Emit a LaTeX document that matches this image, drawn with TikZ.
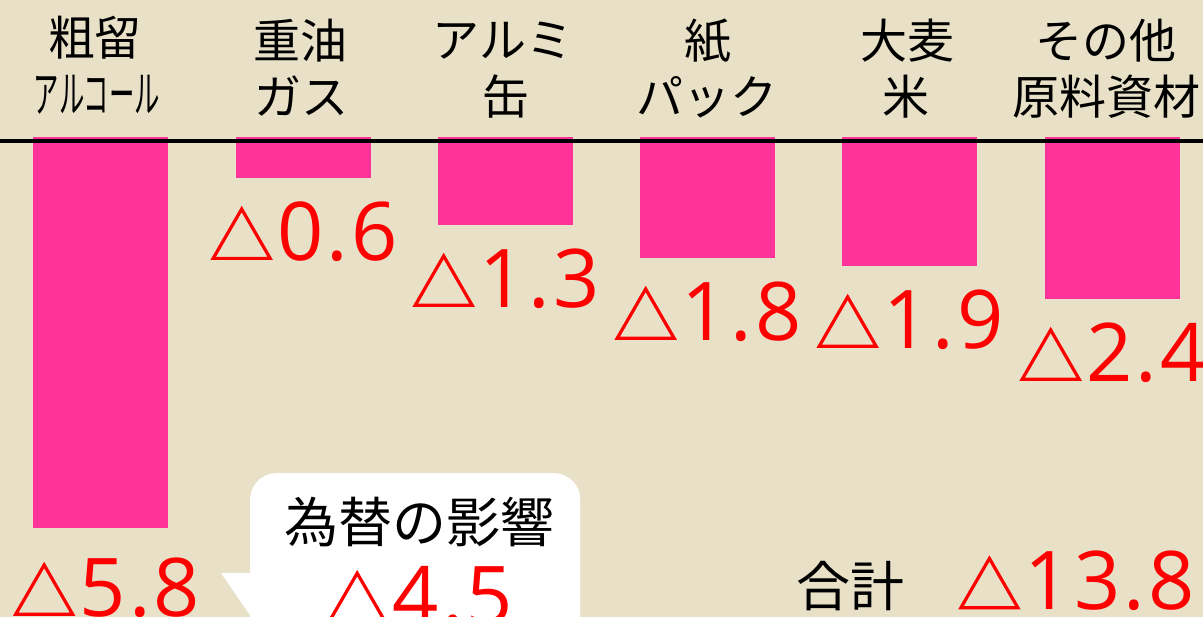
\documentclass[tikz,border=0pt]{standalone}
\usepackage{fontspec}
\setmainfont{Noto Sans CJK JP}
\newfontfamily\numfont[LetterSpace=4]{Open Sans}
\newfontfamily\trifont[FakeBold=1.2]{Noto Sans CJK JP}
\usepackage{tikz}
\usetikzlibrary{positioning}
\definecolor{paper}{RGB}{232,225,200}
\definecolor{barpink}{RGB}{255,51,153}
\newcommand{\sankaku}[1]{{\trifont\fontsize{65}{70}\selectfont △}\kern3pt{\numfont #1}}
\tikzset{
  cost/.style={fill=barpink, inner sep=0, minimum width=135, anchor=north},
  head/.style={inner sep=0, font=\fontsize{47}{50}\selectfont},
  loss/.style={inner sep=0, text=red, font=\fontsize{81}{83}\selectfont},
  note/.style={inner sep=0, font=\fontsize{54}{56}\selectfont}
}

\begin{document}
\begin{tikzpicture}[x=1pt, y=-1pt, node distance=23pt]

      \useasboundingbox (0,0) rectangle (1203,617);
      \clip (0,0) rectangle (1203,617);
      \fill [paper] (0,0) rectangle (1203,617);

      \node [cost, minimum height=391] at (100,137) (b1) {};
      \node [cost, minimum height=41] at (303.5,137) (b2) {};
      \node [cost, minimum height=88] at (505.5,137) (b3) {};
      \node [cost, minimum height=121] at (707.5,137) (b4) {};
      \node [cost, minimum height=129] at (909.5,137) (b5) {};
      \node [cost, minimum height=162] at (1112.5,137) (b6) {};

      \coordinate (axl) at (0,141);
      \coordinate (axr) at (1203,141);
      \draw [line width=4.5] (axl) -- (axr);

      \node [head] at (95,38) (h1) {粗留};
      \node [head] at (97,95) (s1) {\scalebox{0.54}[1.06]{アルコール}};
      \node [head] at (300,41) (h2) {重油};
      \node [head] at (301,96) (s2) {ガス};
      \node [head] at (503,41) (h3) {アルミ};
      \node [head] at (506,97) (s3) {缶};
      \node [head] at (708,41) (h4) {紙};
      \node [head] at (707,97) (s4) {パック};
      \node [head] at (907,41) (h5) {大麦};
      \node [head] at (906,97) (s5) {米};
      \node [head] at (1106,41) (h6) {その他};
      \node [head] at (1106,97) (s6) {原料資材};

      \node [loss, below=29pt of b1, xshift=6] (v1) {\sankaku{5.8}};
      \node [loss, below=of b2] (v2) {\sankaku{0.6}};
      \node [loss, below=of b3] (v3) {\sankaku{1.3}};
      \node [loss, below=of b4] (v4) {\sankaku{1.8}};
      \node [loss, below=of b5] (v5) {\sankaku{1.9}};
      \node [loss, below=of b6] (v6) {\sankaku{2.4}};

      % callout
      \node [fill=white, rounded corners=26, minimum width=330, minimum height=200,
             inner sep=0, anchor=north west] at (250,473) (bubble) {};
      \coordinate (tip) at (221,573);
      \fill [white] (tip) -- (256,573) -- (256,624) -- cycle;
      \node [note] at (419,522) (fx) {為替の影響};
      \node [loss] at (419,596) (v7) {\sankaku{4.5}};

      \node [note] at (850,586) (sum) {合計};
      \node [loss] at (1076,581) (v8) {\sankaku{13.8}};
    \end{tikzpicture}
\end{document}
